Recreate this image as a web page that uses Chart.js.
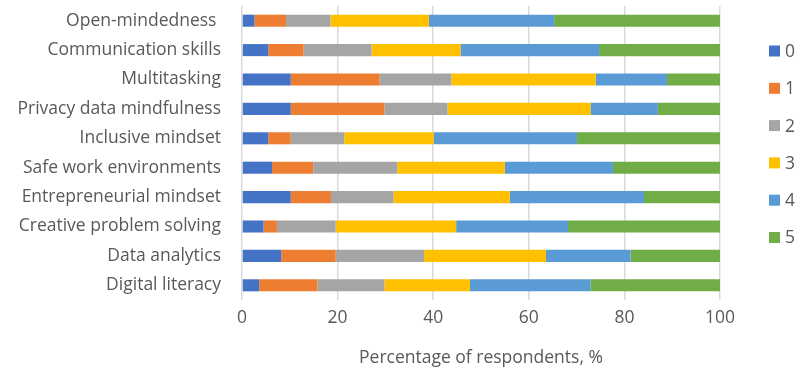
<!DOCTYPE html>
<html>
<head>
<meta charset="utf-8">
<script src="https://cdn.jsdelivr.net/npm/chart.js@4.4.1/dist/chart.umd.min.js"></script>
<style>
  html, body { margin: 0; padding: 0; background: #ffffff; }
  #wrap { width: 796px; height: 371px; position: relative; }
</style>
</head>
<body>
<div id="wrap"><canvas id="c" width="796" height="371"></canvas></div>
<script>
// Skills, listed top to bottom
const categories = [
  'Open-mindedness ',
  'Communication skills',
  'Multitasking',
  'Privacy data mindfulness',
  'Inclusive mindset',
  'Safe work environments',
  'Entrepreneurial mindset',
  'Creative problem solving',
  'Data analytics',
  'Digital literacy'
];

// Rating levels and the share of respondents (%) choosing each one
const ratingLabels = ['0', '1', '2', '3', '4', '5'];
const rating0 = [2.6, 5.5, 10.2, 10.2, 5.5, 6.3, 10.2, 4.5, 8.2, 3.6];
const rating1 = [6.6, 7.4, 18.6, 19.6, 4.7, 8.6, 8.4, 2.8, 11.4, 12.2];
const rating2 = [9.3, 14.2, 15.0, 13.2, 11.2, 17.6, 13.1, 12.3, 18.5, 14.0];
const rating3 = [20.6, 18.6, 30.2, 29.9, 18.7, 22.5, 24.3, 25.2, 25.5, 17.9];
const rating4 = [26.2, 29.0, 14.9, 14.1, 30.0, 22.6, 28.1, 23.4, 17.7, 25.2];
const rating5 = [34.7, 25.3, 11.1, 13.0, 29.9, 22.4, 15.9, 31.8, 18.7, 27.1];

const xTicks = [0, 20, 40, 60, 80, 100];
const axisTitle = 'Percentage of respondents, %';

const seriesValues = [rating0, rating1, rating2, rating3, rating4, rating5];
const seriesColors = ['#4472C4', '#ED7D31', '#A5A5A5', '#FFC000', '#5B9BD5', '#70AD47'];

const FONT = '"Open Sans"';
const FONT_SIZE = 17.5;
const TEXT = '#595959';
const GRID = '#d9d9d9';

// Legend drawn as a vertical column to the right of the plot
const sideLegend = {
  id: 'sideLegend',
  afterDraw(chart) {
    const ctx = chart.ctx;
    ctx.save();
    ctx.font = FONT_SIZE + 'px ' + FONT;
    ctx.textBaseline = 'middle';
    ctx.textAlign = 'left';
    chart.data.datasets.forEach((ds, i) => {
      const cy = 51 + i * 37.3;
      ctx.fillStyle = ds.backgroundColor;
      ctx.fillRect(769, cy - 5.5, 11, 11);
      ctx.fillStyle = TEXT;
      ctx.fillText(ds.label, 785, cy + 1);
    });
    ctx.restore();
  }
};

new Chart(document.getElementById('c'), {
  type: 'bar',
  data: {
    labels: categories,
    datasets: seriesValues.map((vals, i) => ({
      label: ratingLabels[i],
      data: vals,
      backgroundColor: seriesColors[i],
      borderWidth: 0,
      barPercentage: 0.41,
      categoryPercentage: 1.0
    }))
  },
  options: {
    indexAxis: 'y',
    responsive: false,
    animation: false,
    devicePixelRatio: 1,
    layout: { autoPadding: false, padding: { left: 0, right: 76, top: 6, bottom: 0 } },
    plugins: {
      legend: { display: false },
      tooltip: { enabled: false }
    },
    scales: {
      x: {
        stacked: true,
        min: 0,
        max: 100,
        afterBuildTicks(scale) {
          scale.ticks = xTicks.map(v => ({ value: v }));
        },
        afterFit(scale) {
          scale.height = 71;
          scale.paddingLeft = 0;
          scale.paddingRight = 0;
        },
        grid: { color: GRID, lineWidth: 1.5, drawTicks: false },
        border: { display: false },
        ticks: { color: TEXT, font: { family: FONT, size: FONT_SIZE }, padding: 8, maxRotation: 0 },
        title: {
          display: true,
          text: axisTitle,
          color: TEXT,
          font: { family: FONT, size: FONT_SIZE },
          padding: { top: 4, bottom: 2 }
        }
      },
      y: {
        stacked: true,
        afterFit(scale) {
          scale.width = 242;
          scale.paddingTop = 0;
          scale.paddingBottom = 0;
        },
        grid: { display: false, drawTicks: false },
        border: { display: false },
        ticks: { color: TEXT, font: { family: FONT, size: FONT_SIZE }, padding: 21, autoSkip: false }
      }
    }
  },
  plugins: [sideLegend]
});
</script>
</body>
</html>
